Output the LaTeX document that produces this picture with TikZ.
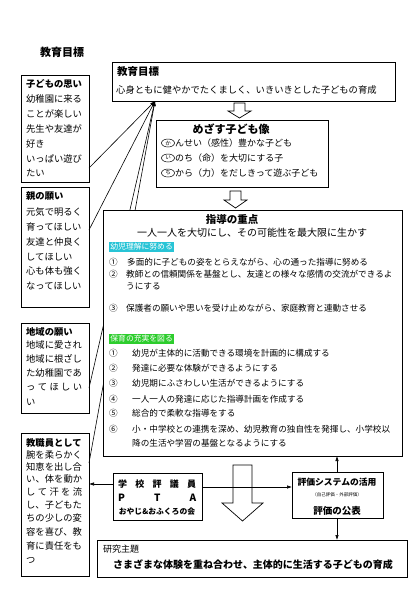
\documentclass[tikz,border=0pt]{standalone}
\usepackage{fontspec}
\setmainfont{Noto Sans CJK JP}
\usetikzlibrary{arrows.meta,calc,shapes.geometric}
\newcommand\jfs[1]{\fontsize{#1}{#1}\selectfont}
\definecolor{badgecyan}{RGB}{40,196,214}
\definecolor{badgegreen}{RGB}{45,205,45}
\begin{document}
\begin{tikzpicture}[x=1pt,y=-1pt,
  box/.style={draw=black,line width=0.7pt,fill=white,inner sep=0pt,outer sep=0pt,anchor=north west},
  tl/.style={inner sep=0pt,anchor=west},
  tc/.style={inner sep=0pt},
  arr/.style={-{Latex[length=5pt,width=3.5pt]},line width=0.6pt},
  hollow/.style={draw=black,line width=0.7pt,fill=white},
  badge/.style={inner sep=1.2pt,anchor=west,text=white,font=\jfs{7.8}},
  oval/.style={draw,ellipse,inner sep=0pt,minimum width=13pt,minimum height=8pt,line width=0.5pt,font=\jfs{5.5}}
]
\fill[white] (0,0) rectangle (420,600);
\useasboundingbox (0,0) rectangle (420,600);

% title
\node[tl,font=\jfs{11}\bfseries] (title) at (40,52) {教育目標};

% left boxes
\node[box,minimum width=68pt,minimum height=107pt] (kodomo) at (21,75) {};
\node[box,minimum width=68pt,minimum height=120pt] (oya) at (21,187) {};
\node[box,minimum width=68pt,minimum height=90pt] (chiiki) at (21,323) {};
\node[box,minimum width=68pt,minimum height=143pt] (kyoshoku) at (21,433) {};

% goal point and converging lines
\coordinate (goal) at (155,101);
\draw[arr] ($(kodomo.north east)+(0,93)$) -- (goal);
\draw[arr] ($(oya.north east)+(0,43)$) -- (goal);
\draw[arr] ($(chiiki.north east)+(0,65)$) -- (goal);
\draw[arr] ($(kyoshoku.north east)+(0,30)$) -- (goal);

% main boxes
\node[box,minimum width=283pt,minimum height=39pt] (mokuhyo) at (112,62) {};
\node[box,minimum width=172pt,minimum height=67pt] (mezasu) at (156,120) {};
\node[box,line width=1pt,minimum width=299pt,minimum height=246pt] (shido) at (103,210) {};
\node[box,minimum width=89pt,minimum height=47pt] (pta) at (113,473) {};
\node[box,minimum width=91pt,minimum height=46pt] (hyoka) at (292,472) {};
\node[box,minimum width=310pt,minimum height=37pt] (kenkyu) at (97,540) {};

% hollow arrows
\draw[hollow] (234,103) -- (245,103) -- (245,111) -- (251,111) -- (239.5,118) -- (228,111) -- (234,111) -- cycle;
\draw[hollow] (230,191) -- (241,191) -- (241,200) -- (247,200) -- (235.5,208) -- (224,200) -- (230,200) -- cycle;
\draw[hollow] (233,465) -- (252,465) -- (252,503) -- (263,503) -- (242.5,521) -- (222,503) -- (233,503) -- cycle;

% connectors at bottom
\draw[arr] ($(pta.north west)+(0,11)$) -- ($(kyoshoku.north east)+(0,51)$);
\draw[arr] ($(pta.north east)+(0,14)$) -- ($(hyoka.north west)+(0,15)$);
\draw[arr] ($(hyoka.north west)+(45,0)$) -- ($(shido.south west)+(234,0)$);
\draw[arr] ($(hyoka.south west)+(45,0)$) -- ($(kenkyu.north west)+(240,0)$);

% left box texts
\begin{scope}[every node/.style={tl,font=\jfs{9.3}}]
\node[font=\jfs{9.3}\bfseries] (k0) at (26,84) {子どもの思い};
\node (k1) at (26,99) {幼稚園に来る};
\node (k2) at (26,114) {ことが楽しい};
\node (k3) at (26,129) {先生や友達が};
\node (k4) at (26,144) {好き};
\node (k5) at (26,159) {いっぱい遊び};
\node (k6) at (26,173) {たい};

\node[font=\jfs{9.3}\bfseries] (o0) at (26,196) {親の願い};
\node (o1) at (26,212) {元気で明るく};
\node (o2) at (26,227) {育ってほしい};
\node (o3) at (26,242) {友達と仲良く};
\node (o4) at (26,257) {してほしい};
\node (o5) at (26,271) {心も体も強く};
\node (o6) at (26,286) {なってほしい};

\node[font=\jfs{9.3}\bfseries] (c0) at (26,332) {地域の願い};
\node (c1) at (26,345) {地域に愛され};
\node (c2) at (26,359) {地域に根ざし};
\node (c3) at (26,373) {た幼稚園であ};
\node (c4) at (26,387) {\makebox[56pt][s]{っ\hfill て\hfill ほ\hfill し\hfill い}};
\node (c5) at (26,402) {い};

\node[font=\jfs{9.3}\bfseries] (e0) at (26,443) {教職員として};
\node (e1) at (26,455) {腕を柔らかく};
\node (e2) at (26,467) {知恵を出し合};
\node (e3) at (26,479) {\makebox[56pt][s]{い\hfill 、\hfill 体\hfill を\hfill 動\hfill か}};
\node (e4) at (26,492) {\makebox[56pt][s]{し\hfill て\hfill 汗\hfill を\hfill 流}};
\node (e5) at (26,505) {し、子どもた};
\node (e6) at (26,518) {ちの少しの変};
\node (e7) at (26,532) {容を喜び、教};
\node (e8) at (26,546) {育に責任をも};
\node (e9) at (26,560) {つ};
\end{scope}

% mokuhyo texts
\node[tl,font=\jfs{10.5}\bfseries] (m0) at (117,72) {教育目標};
\node[tl,font=\jfs{9.3}] (m1) at (116,90) {心身ともに健やかでたくましく、いきいきとした子どもの育成};

% mezasu texts
\node[tc,font=\jfs{11}\bfseries] (z0) at (231,129) {めざす子ども像};
\node[oval] (z1o) at (168,143) {か};
\node[tl,font=\jfs{9}] (z1) at (175,143) {んせい（感性）豊かな子ども};
\node[oval] (z2o) at (168,158) {い};
\node[tl,font=\jfs{9}] (z2) at (175,158) {のち（命）を大切にする子};
\node[oval] (z3o) at (168,173) {ち};
\node[tl,font=\jfs{9}] (z3) at (175,173) {から（力）をだしきって遊ぶ子ども};

% shido texts
\node[tc,font=\jfs{10.5}\bfseries] (s0) at (232,219) {指導の重点};
\node[tc,font=\jfs{10}] (s1) at (252,233) {一人一人を大切にし、その可能性を最大限に生かす};
\node[badge,fill=badgecyan] (b1) at (109,247) {幼児理解に努める};
\begin{scope}[every node/.style={tl,font=\jfs{8.6}}]
\node (a1n) at (109,262) {①};
\node (a1) at (127,262) {多面的に子どもの姿をとらえながら、心の通った指導に努める};
\node (a2n) at (109,274) {②};
\node (a2) at (126,274) {教師との信頼関係を基盤とし、友達との様々な感情の交流ができるよ};
\node (a2b) at (126,286) {うにする};
\node (a3n) at (109,308) {③};
\node (a3) at (126,308) {保護者の願いや思いを受け止めながら、家庭教育と連動させる};
\end{scope}
\node[badge,fill=badgegreen] (b2) at (109,339) {保育の充実を図る};
\begin{scope}[every node/.style={tl,font=\jfs{8.6}}]
\node (p1n) at (109,353) {①};
\node (p1) at (132,353) {幼児が主体的に活動できる環境を計画的に構成する};
\node (p2n) at (109,368) {②};
\node (p2) at (132,368) {発達に必要な体験ができるようにする};
\node (p3n) at (109,383) {③};
\node (p3) at (132,383) {幼児期にふさわしい生活ができるようにする};
\node (p4n) at (109,399) {④};
\node (p4) at (132,399) {一人一人の発達に応じた指導計画を作成する};
\node (p5n) at (109,413) {⑤};
\node (p5) at (132,413) {総合的で柔軟な指導をする};
\node (p6n) at (109,429) {⑥};
\node (p6) at (132,429) {小・中学校との連携を深め、幼児教育の独自性を発揮し、小学校以};
\node (p6b) at (132,443) {降の生活や学習の基盤となるようにする};
\end{scope}

% pta texts
\node[tl,font=\jfs{9}\bfseries] (q1) at (118,484) {\makebox[78pt][s]{学\hfill 校\hfill 評\hfill 議\hfill 員}};
\node[tl,font=\jfs{10}\bfseries] (q2) at (118,498) {\makebox[78pt][s]{P\hfill T\hfill A}};
\node[tc,font=\jfs{7.8}\bfseries] (q3) at (157,512) {おやじ\&おふくろの会};

% hyoka texts
\node[tc,font=\jfs{8.8}\bfseries] (h1) at (337,482) {評価システムの活用};
\node[tc,font=\jfs{4.5}] (h2) at (337,495) {（自己評価・外部評価）};
\node[tc,font=\jfs{9.5}\bfseries] (h3) at (337,511) {評価の公表};

% kenkyu texts
\node[tl,font=\jfs{9}] (r1) at (103,549) {研究主題};
\node[tc,font=\jfs{10}\bfseries] (r2) at (253,565) {さまざまな体験を重ね合わせ、主体的に生活する子どもの育成};
\end{tikzpicture}
\end{document}
